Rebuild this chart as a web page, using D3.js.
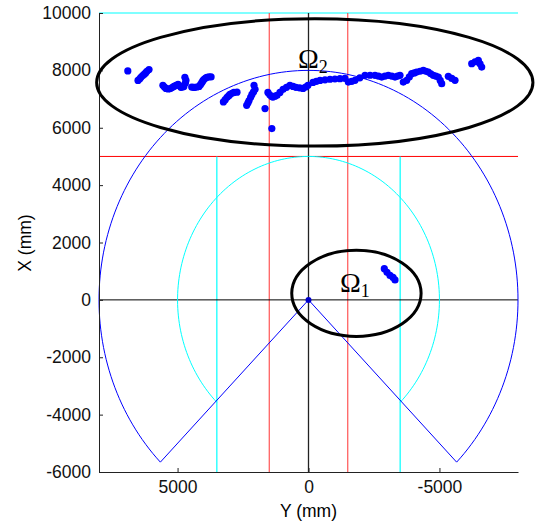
<!DOCTYPE html>
<html>
<head>
<meta charset="utf-8">
<script src="https://cdn.jsdelivr.net/npm/d3@7"></script>
<style>
  body { margin: 0; background: #fff; }
  .axis text { font-family: "Liberation Sans", Arial, sans-serif; font-size: 17.5px; fill: #111; }
  .axis path, .axis line { stroke: #222; }
</style>
</head>
<body>
<script>
// tick values
var yTicks = [-6000, -4000, -2000, 0, 2000, 4000, 6000, 8000, 10000];
var xTicks = [5000, 0, -5000];

// far cluster (Omega 2): lateral Y (mm), distance X (mm)
var farY = [6900,
  6510, 6450, 6400, 6340, 6280, 6220, 6170, 6090,
  5560, 5500, 5440, 5360, 5290, 5210, 5140, 5060, 4980, 4920, 4870, 4810, 4760, 4700, 4680, 4720,
  4460, 4400, 4340, 4260, 4180, 4120, 4070, 4030, 3990, 3930, 3880, 3800, 3720,
  3250, 3180, 3110, 3050, 3000, 2920, 2850, 2730,
  2360, 2310, 2270, 2210, 2160, 2100, 2040, 2080,
  1660, 1400,
  1550, 1480, 1410, 1360, 1280, 1200, 1090, 970, 840, 710, 590, 480, 340, 210, 110, 20,
  -170, -300, -440, -630, -820, -1010, -1200, -1390, -1520, -1650, -1776, -1960, -2158, -2350, -2540, -2670,
  -2796, -2920, -3048, -3180, -3303, -3400, -3494, -3620, -3750, -3850, -3941, -4040, -4132, -4260, -4384,
  -4480, -4575, -4670, -4766, -4860, -4957, -5030, -5087,
  -5339, -5470, -5595,
  -6233, -6360, -6485, -6550, -6614];
var farX = [7980,
  7650, 7700, 7760, 7810, 7860, 7910, 7970, 8030,
  7480, 7420, 7370, 7350, 7360, 7400, 7440, 7480, 7510, 7460, 7410, 7420, 7440, 7560, 7650, 7760,
  7420, 7410, 7410, 7420, 7440, 7510, 7580, 7640, 7690, 7730, 7760, 7770, 7770,
  6900, 6980, 7060, 7110, 7160, 7200, 7230, 7240,
  6780, 6870, 6950, 7060, 7160, 7250, 7340, 7480,
  6670, 5970,
  7230, 7150, 7090, 7070, 7100, 7130, 7230, 7340, 7410, 7480, 7440, 7410, 7390, 7370, 7420, 7480,
  7580, 7620, 7650, 7670, 7690, 7700, 7710, 7720, 7593, 7620, 7652, 7740, 7826, 7830, 7826, 7800,
  7767, 7800, 7826, 7800, 7767, 7800, 7826, 7593, 7652, 7770, 7885, 7910, 7941, 7970, 8000,
  7970, 7941, 7880, 7826, 7800, 7767, 7650, 7537,
  7791, 7720, 7652,
  8234, 8300, 8349, 8230, 8116];

// near cluster (Omega 1)
var nearY = [-2895, -2998, -3112, -3227, -3303];
var nearX = [1088, 959, 854, 784, 697];

var width = 536, height = 525;

var svg = d3.select("body").append("svg")
    .attr("width", width)
    .attr("height", height);

// Y (mm) runs right to left
var x = d3.scaleLinear().domain([8000, -8000]).range([99, 518]);
var y = d3.scaleLinear().domain([-6000, 10000]).range([472, 13]);

function hline(v, x0, x1, color, w) {
  svg.append("line")
    .attr("x1", x(x0)).attr("x2", x(x1))
    .attr("y1", y(v)).attr("y2", y(v))
    .attr("stroke", color).attr("stroke-width", w || 1);
}
function vline(v, y0, y1, color, w) {
  svg.append("line")
    .attr("x1", x(v)).attr("x2", x(v))
    .attr("y1", y(y0)).attr("y2", y(y1))
    .attr("stroke", color).attr("stroke-width", w || 1);
}

// guide lines
hline(10000, 8000, -8000, "#00ffff", 1.2);
hline(5000, 8000, -8000, "#ff0000", 1);
vline(3500, -6000, 5000, "#00ffff", 1.2);
vline(-3500, -6000, 5000, "#00ffff", 1.2);
vline(1500, -6000, 10000, "#ff3333", 1);
vline(-1500, -6000, 10000, "#ff3333", 1);
hline(0, 8000, -8000, "#000", 1);
vline(0, -6000, 10000, "#222", 1.3);

// polar sector helper: theta measured from +X toward +Y
function arcPts(r, a0, a1) {
  var pts = [];
  for (var a = a0; a <= a1 + 1e-9; a += (a1 - a0) / 180) {
    pts.push([r * Math.sin(a), r * Math.cos(a)]);
  }
  return pts;
}
var line = d3.line().x(function(d) { return x(d[0]); }).y(function(d) { return y(d[1]); });

// cyan 5 m circle
var ca = Math.PI - Math.asin(0.7);
svg.append("path").attr("d", line(arcPts(5000, -ca, ca)))
  .attr("fill", "none").attr("stroke", "#00ffff").attr("stroke-width", 1);

// blue 8 m sensor sector
var sa = Math.PI * 3 / 4;
var sector = [[0, 0]].concat(arcPts(8000, -sa, sa)).concat([[0, 0]]);
svg.append("path").attr("d", line(sector))
  .attr("fill", "none").attr("stroke", "#0000ff").attr("stroke-width", 1);

// axes
var plain = function(d) { return String(d); };
svg.append("g")
  .attr("class", "axis")
  .attr("transform", "translate(99,0)")
  .call(d3.axisLeft(y).tickValues(yTicks).tickFormat(plain)
    .tickSize(-4).tickSizeOuter(0).tickPadding(8));

svg.append("g")
  .attr("class", "axis")
  .attr("transform", "translate(0,472)")
  .call(d3.axisBottom(x).tickValues(xTicks).tickFormat(plain)
    .tickSize(-4).tickSizeOuter(0).tickPadding(9));

// ellipses
function ell(cy, cx, ry, rx) {
  svg.append("ellipse")
    .attr("cx", x(cy)).attr("cy", y(cx))
    .attr("rx", Math.abs(x(ry) - x(0))).attr("ry", Math.abs(y(rx) - y(0)))
    .attr("fill", "none").attr("stroke", "#000").attr("stroke-width", 3);
}
ell(-240, 7580, 8330, 2220);
ell(-1830, 227, 2470, 1500);

// detections
function dots(ys, xs) {
  svg.append("g").selectAll("circle")
    .data(ys.map(function(v, i) { return [v, xs[i]]; }))
    .enter().append("circle")
    .attr("cx", function(d) { return x(d[0]); })
    .attr("cy", function(d) { return y(d[1]); })
    .attr("r", 3.6)
    .attr("fill", "#0000ff");
}
dots(farY, farX);
dots(nearY, nearX);
svg.append("circle").attr("cx", x(0)).attr("cy", y(0)).attr("r", 3).attr("fill", "#0000cc");

// region labels
function omega(yv, xv, sub) {
  var t = svg.append("text")
    .attr("x", x(yv)).attr("y", y(xv))
    .attr("font-family", "Liberation Serif, Times New Roman, serif")
    .attr("font-size", 28).attr("fill", "#000");
  t.append("tspan").text("\u03A9");
  t.append("tspan").attr("font-size", 18).attr("dy", 5).text(sub);
}
omega(400, 8070, "2");
omega(-1200, 260, "1");

// axis titles
svg.append("text")
  .attr("x", 308.5).attr("y", 517)
  .attr("text-anchor", "middle")
  .attr("font-family", "Liberation Sans, Arial, sans-serif")
  .attr("font-size", 17.5)
  .text("Y (mm)");

svg.append("text")
  .attr("transform", "translate(31,243) rotate(-90)")
  .attr("text-anchor", "middle")
  .attr("font-family", "Liberation Sans, Arial, sans-serif")
  .attr("font-size", 17.5)
  .text("X (mm)");
</script>
</body>
</html>
